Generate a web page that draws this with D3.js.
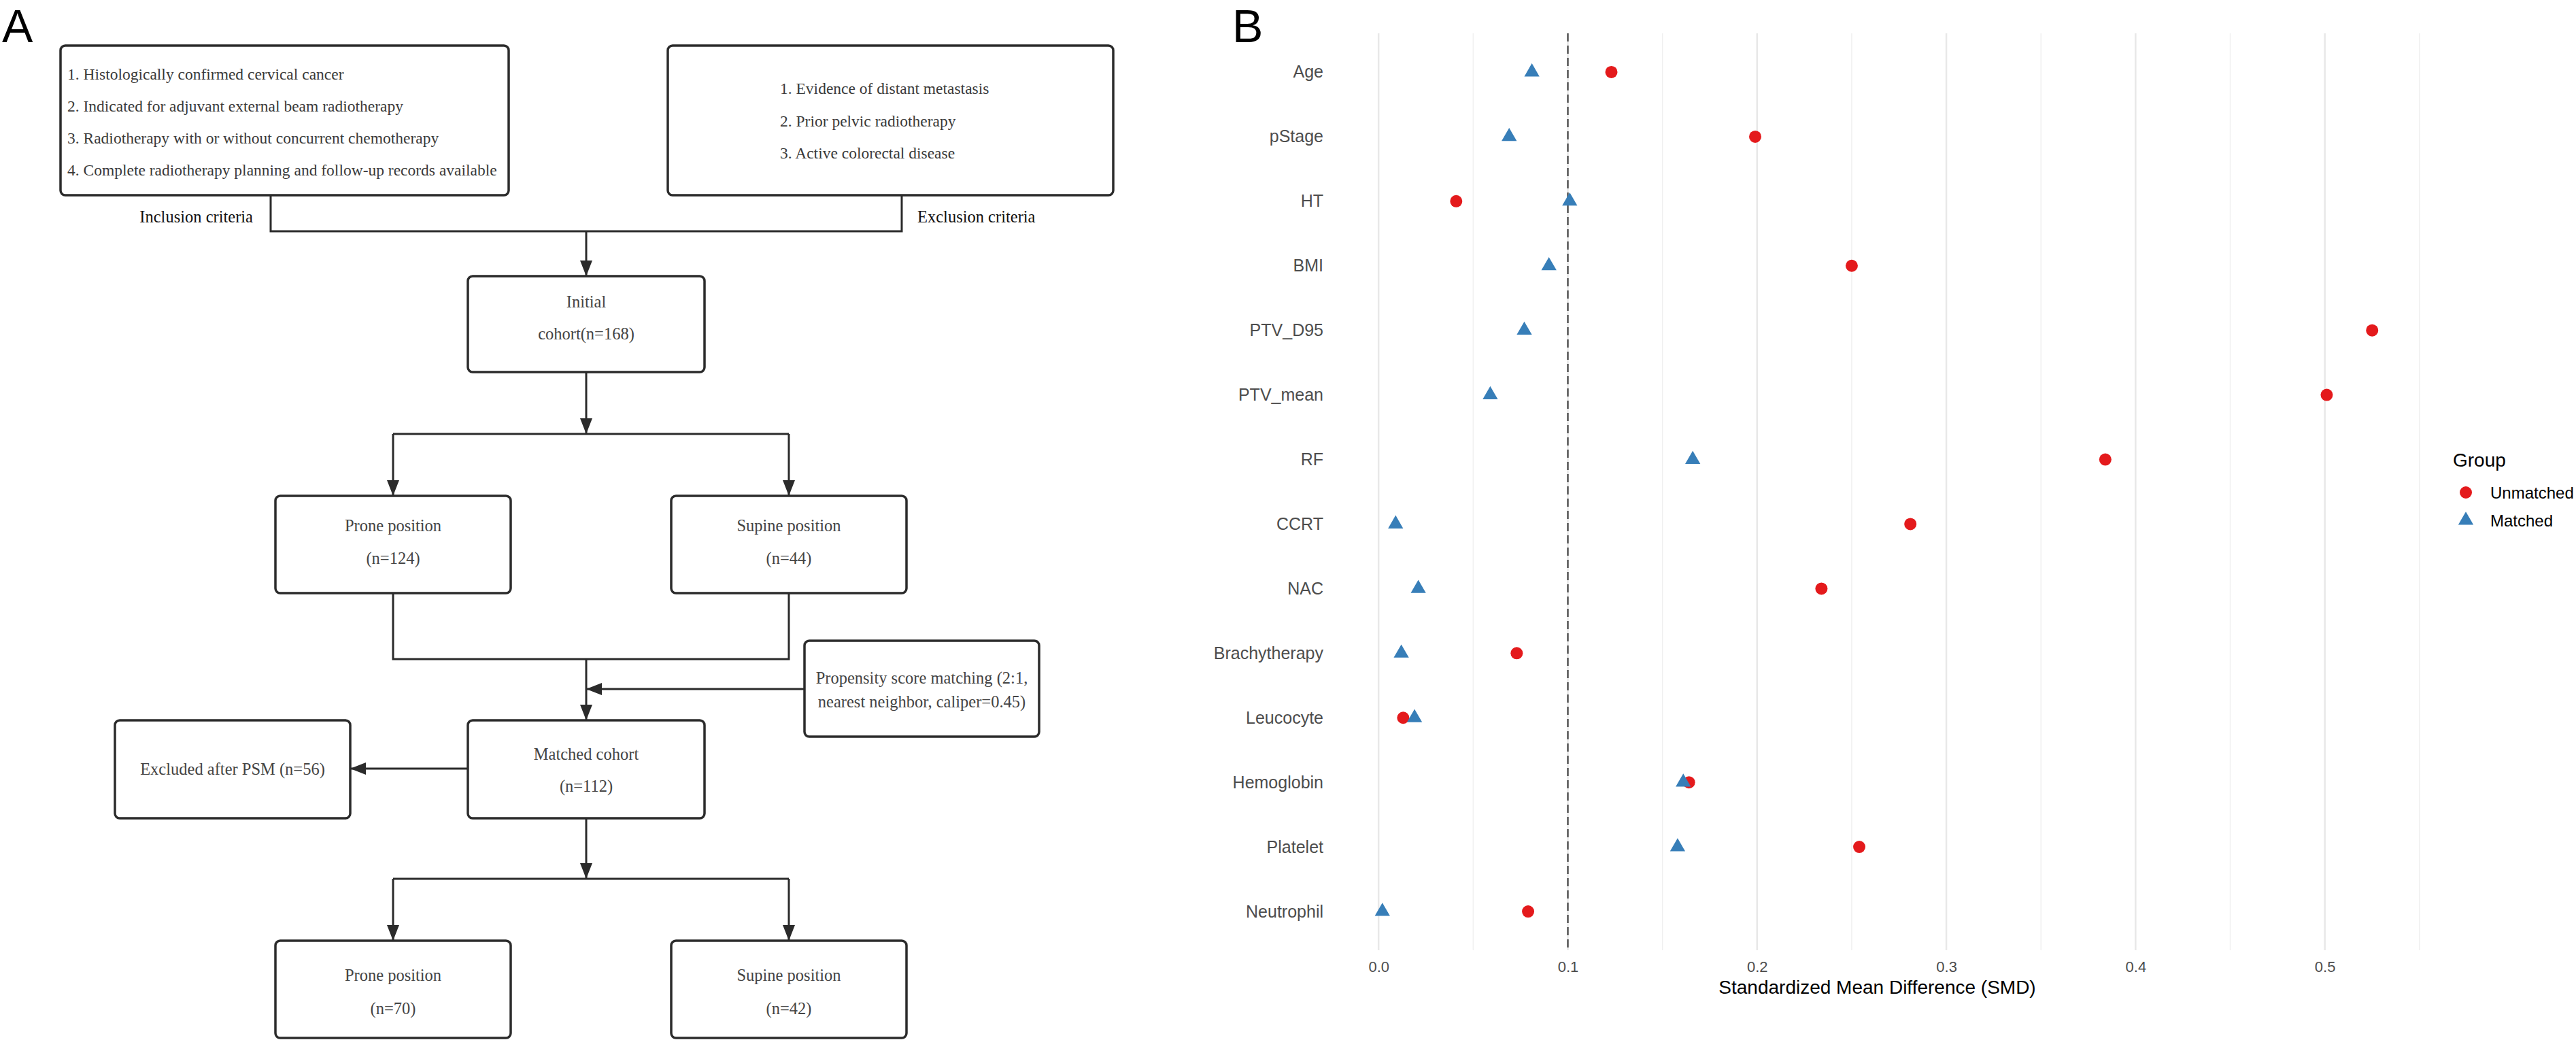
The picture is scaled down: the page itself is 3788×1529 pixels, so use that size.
<!DOCTYPE html>
<html>
<head>
<meta charset="utf-8">
<script src="https://cdn.jsdelivr.net/npm/d3@7"></script>
<style>
  body { margin: 0; background: #fff; }
  svg { display: block; }
</style>
</head>
<body>
<div id="chart"></div>
<script>
// Panel B data
const variables = ["Age", "pStage", "HT", "BMI", "PTV_D95", "PTV_mean", "RF", "CCRT",
  "NAC", "Brachytherapy", "Leucocyte", "Hemoglobin", "Platelet", "Neutrophil"]
const smdUnmatched = [0.123, 0.199, 0.041, 0.250, 0.525, 0.501, 0.384, 0.281,
  0.234, 0.073, 0.013, 0.164, 0.254, 0.079]
const smdMatched = [0.081, 0.069, 0.101, 0.090, 0.077, 0.059, 0.166, 0.009,
  0.021, 0.012, 0.019, 0.161, 0.158, 0.002]
const groups = ["Unmatched", "Matched"]
const groupColors = ["#E41A1C", "#377EB8"]
const xTicks = [0, 0.1, 0.2, 0.3, 0.4, 0.5]
const threshold = 0.1

// Panel A text
const inclusionCriteria = [
  "1. Histologically confirmed cervical cancer",
  "2. Indicated for adjuvant external beam radiotherapy",
  "3. Radiotherapy with or without concurrent chemotherapy",
  "4. Complete radiotherapy planning and follow-up records available"
]
const exclusionCriteria = [
  "1. Evidence of distant metastasis",
  "2. Prior pelvic radiotherapy",
  "3. Active colorectal disease"
]

let dimensions = {
  width: 3788,
  height: 1529
}

const svg = d3.select("#chart")
  .append("svg")
  .attr("width", dimensions.width)
  .attr("height", dimensions.height)

svg.append("rect")
  .attr("width", dimensions.width)
  .attr("height", dimensions.height)
  .attr("fill", "#fff")

// panel letters
svg.append("text").attr("x", 3).attr("y", 62)
  .attr("font-family", "Liberation Sans, Arial").attr("font-size", 68)
  .text("A")
svg.append("text").attr("x", 1812).attr("y", 62)
  .attr("font-family", "Liberation Sans, Arial").attr("font-size", 68)
  .text("B")

// ---------------- Panel A: flowchart ----------------
function drawFlowchart() {
  const g = svg.append("g")
  const ink = "#2b2b2b"
  const serif = "Liberation Serif, Times New Roman, serif"

  svg.append("defs").append("marker")
    .attr("id", "arrow")
    .attr("markerUnits", "userSpaceOnUse")
    .attr("viewBox", "0 0 23 18")
    .attr("refX", 23).attr("refY", 9)
    .attr("markerWidth", 23).attr("markerHeight", 18)
    .attr("orient", "auto")
    .append("path")
    .attr("d", "M0,0 L23,9 L0,18 Z")
    .attr("fill", ink)

  const boxes = [
    {x: 89, y: 67, w: 659, h: 220},
    {x: 982, y: 67, w: 655, h: 220},
    {x: 688, y: 406, w: 348, h: 141, lines: ["Initial", "cohort(n=168)"], ys: [452, 499]},
    {x: 405, y: 729, w: 346, h: 143, lines: ["Prone position", "(n=124)"], ys: [781, 829]},
    {x: 987, y: 729, w: 346, h: 143, lines: ["Supine position", "(n=44)"], ys: [781, 829]},
    {x: 1183, y: 942, w: 345, h: 141, lines: ["Propensity score matching (2:1,", "nearest neighbor, caliper=0.45)"], ys: [1005, 1040]},
    {x: 169, y: 1059, w: 346, h: 144, lines: ["Excluded after PSM (n=56)"], ys: [1139]},
    {x: 688, y: 1059, w: 348, h: 144, lines: ["Matched cohort", "(n=112)"], ys: [1117, 1164]},
    {x: 405, y: 1383, w: 346, h: 143, lines: ["Prone position", "(n=70)"], ys: [1442, 1491]},
    {x: 987, y: 1383, w: 346, h: 143, lines: ["Supine position", "(n=42)"], ys: [1442, 1491]}
  ]

  g.selectAll("rect.box")
    .data(boxes)
    .join("rect")
    .attr("class", "box")
    .attr("x", d => d.x).attr("y", d => d.y)
    .attr("width", d => d.w).attr("height", d => d.h)
    .attr("rx", 7).attr("ry", 7)
    .attr("fill", "#fff")
    .attr("stroke", ink)
    .attr("stroke-width", 3.5)

  boxes.filter(d => d.lines).forEach(d => {
    d.lines.forEach((t, i) => {
      g.append("text")
        .attr("x", d.x + d.w / 2)
        .attr("y", d.ys[i])
        .attr("text-anchor", "middle")
        .attr("font-family", serif)
        .attr("font-size", 24.5)
        .attr("fill", "#444")
        .text(t)
    })
  })

  // criteria lists
  g.selectAll("text.inc")
    .data(inclusionCriteria)
    .join("text")
    .attr("class", "inc")
    .attr("x", 99)
    .attr("y", (d, i) => 117 + i * 47)
    .attr("font-family", serif)
    .attr("font-size", 23.5)
    .attr("fill", "#3a3a3a")
    .text(d => d)

  g.selectAll("text.exc")
    .data(exclusionCriteria)
    .join("text")
    .attr("class", "exc")
    .attr("x", 1147)
    .attr("y", (d, i) => 138 + i * 47.5)
    .attr("font-family", serif)
    .attr("font-size", 23.5)
    .attr("fill", "#3a3a3a")
    .text(d => d)

  g.append("text").attr("x", 372).attr("y", 327)
    .attr("text-anchor", "end")
    .attr("font-family", serif).attr("font-size", 24.5)
    .attr("fill", "#111")
    .text("Inclusion criteria")
  g.append("text").attr("x", 1349).attr("y", 327)
    .attr("font-family", serif).attr("font-size", 24.5)
    .attr("fill", "#111")
    .text("Exclusion criteria")

  // connector lines
  const plain = [
    "M398,287 V340 H1326 V287",
    "M578,638 H1160",
    "M578,872 V969 H1160 V872",
    "M578,1292 H1160"
  ]
  g.selectAll("path.conn")
    .data(plain)
    .join("path")
    .attr("class", "conn")
    .attr("d", d => d)
    .attr("fill", "none")
    .attr("stroke", ink)
    .attr("stroke-width", 3)

  const arrows = [
    [862, 340, 862, 406],
    [862, 547, 862, 638],
    [578, 638, 578, 729],
    [1160, 638, 1160, 729],
    [862, 969, 862, 1059],
    [1183, 1013, 862, 1013],
    [688, 1130, 515, 1130],
    [862, 1203, 862, 1292],
    [578, 1292, 578, 1383],
    [1160, 1292, 1160, 1383]
  ]
  g.selectAll("line.arrow")
    .data(arrows)
    .join("line")
    .attr("class", "arrow")
    .attr("x1", d => d[0]).attr("y1", d => d[1])
    .attr("x2", d => d[2]).attr("y2", d => d[3])
    .attr("stroke", ink)
    .attr("stroke-width", 3)
    .attr("marker-end", "url(#arrow)")
}

// ---------------- Panel B: SMD dot plot ----------------
function drawSMD() {
  const panel = {left: 1960, right: 3561, top: 49, bottom: 1397}
  const sans = "Liberation Sans, Arial, sans-serif"

  const all = smdUnmatched.concat(smdMatched)
  const [lo, hi] = d3.extent(all)
  const pad = (hi - lo) * 0.05

  const xScale = d3.scaleLinear()
    .domain([lo - pad, hi + pad])
    .range([panel.left, panel.right])

  const yScale = d3.scalePoint()
    .domain(variables)
    .range([panel.top, panel.bottom])
    .padding(0.6)

  const container = svg.append("g")

  // minor + major vertical grid
  const minor = d3.range(0.05, 0.6, 0.1).filter(v => xScale(v) <= panel.right)
  container.selectAll("line.minor")
    .data(minor)
    .join("line")
    .attr("class", "minor")
    .attr("x1", d => xScale(d)).attr("x2", d => xScale(d))
    .attr("y1", panel.top).attr("y2", panel.bottom)
    .attr("stroke", "#f0f0f0")
    .attr("stroke-width", 1.5)

  container.selectAll("line.major")
    .data(xTicks)
    .join("line")
    .attr("class", "major")
    .attr("x1", d => xScale(d)).attr("x2", d => xScale(d))
    .attr("y1", panel.top).attr("y2", panel.bottom)
    .attr("stroke", "#e8e8e8")
    .attr("stroke-width", 2.5)

  // threshold line
  container.append("line")
    .attr("x1", xScale(threshold)).attr("x2", xScale(threshold))
    .attr("y1", panel.top).attr("y2", panel.bottom)
    .attr("stroke", "#555")
    .attr("stroke-width", 2.5)
    .attr("stroke-dasharray", "12,6")

  // X axis
  const xAxis = d3.axisBottom(xScale)
    .tickValues(xTicks)
    .tickFormat(d3.format(".1f"))
    .tickSize(0)
    .tickPadding(16)

  const xAxisGroup = container.append("g")
    .attr("transform", `translate(0, ${panel.bottom})`)
    .call(xAxis)
  xAxisGroup.select(".domain").remove()
  xAxisGroup.selectAll("text")
    .attr("font-family", sans)
    .attr("font-size", 22)
    .attr("fill", "#4d4d4d")

  // Y axis
  const yAxis = d3.axisLeft(yScale).tickSize(0).tickPadding(14)
  const yAxisGroup = container.append("g")
    .attr("transform", `translate(${panel.left}, 0)`)
    .call(yAxis)
  yAxisGroup.select(".domain").remove()
  yAxisGroup.selectAll("text")
    .attr("font-family", sans)
    .attr("font-size", 25)
    .attr("fill", "#4d4d4d")

  container.append("text")
    .attr("x", (panel.left + panel.right) / 2)
    .attr("y", 1461)
    .attr("text-anchor", "middle")
    .attr("font-family", sans)
    .attr("font-size", 28)
    .attr("fill", "#000")
    .text("Standardized Mean Difference (SMD)")

  // points
  const unmatched = variables.map((v, i) => ({name: v, smd: smdUnmatched[i]}))
  const matched = variables.map((v, i) => ({name: v, smd: smdMatched[i]}))

  container.selectAll("circle.unmatched")
    .data(unmatched)
    .join("circle")
    .attr("class", "unmatched")
    .attr("cx", d => xScale(d.smd))
    .attr("cy", d => yScale(d.name))
    .attr("r", 9)
    .attr("fill", groupColors[0])

  const tri = d3.symbol().type(d3.symbolTriangle).size(215)
  container.selectAll("path.matched")
    .data(matched)
    .join("path")
    .attr("class", "matched")
    .attr("d", tri)
    .attr("transform", d => `translate(${xScale(d.smd)}, ${yScale(d.name)})`)
    .attr("fill", groupColors[1])

  // legend
  const legend = svg.append("g").attr("transform", "translate(3607, 0)")
  legend.append("text")
    .attr("x", 0).attr("y", 686)
    .attr("font-family", sans).attr("font-size", 28)
    .attr("fill", "#000")
    .text("Group")

  const items = legend.selectAll("g.item")
    .data(groups)
    .join("g")
    .attr("class", "item")
    .attr("transform", (d, i) => `translate(0, ${724 + i * 41})`)

  items.each(function(d, i) {
    const it = d3.select(this)
    if (i === 0) {
      it.append("circle").attr("cx", 19).attr("cy", 0).attr("r", 9).attr("fill", groupColors[0])
    } else {
      it.append("path").attr("d", tri).attr("transform", "translate(19, 0)").attr("fill", groupColors[1])
    }
    it.append("text")
      .attr("x", 55).attr("y", 9)
      .attr("font-family", sans).attr("font-size", 24)
      .attr("fill", "#000")
      .text(d)
  })
}

drawFlowchart()
drawSMD()
</script>
</body>
</html>
